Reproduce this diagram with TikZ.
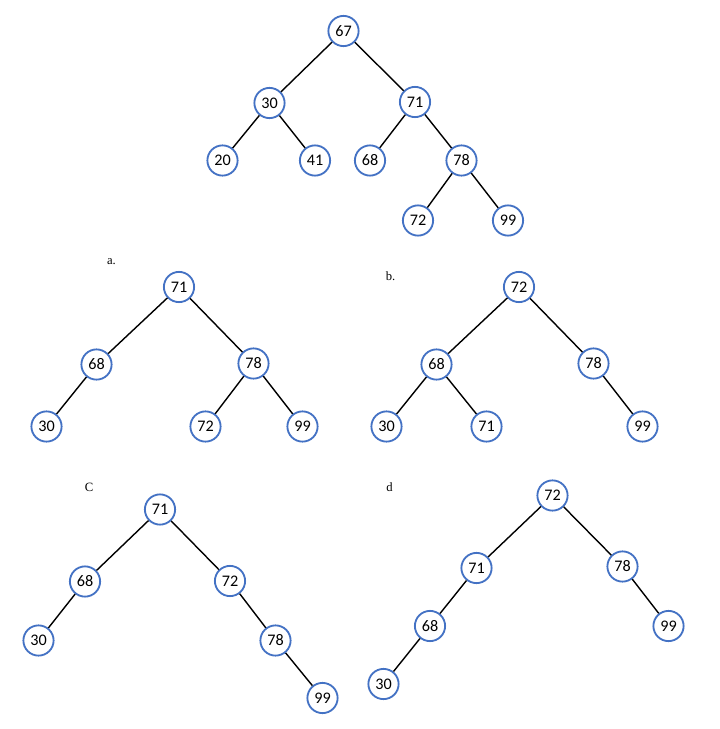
\documentclass[tikz,border=0pt]{standalone}
\usepackage{fontspec}
\setmainfont{Liberation Serif}
\newfontfamily\keyfont{Carlito}
\definecolor{keyblue}{RGB}{68,114,196}
\tikzset{
  key/.style={circle, draw=keyblue, line width=1.3pt, fill=white,
    minimum size=21.5pt, inner sep=0pt, font=\keyfont\fontsize{11.5}{11.5}\selectfont},
  edge/.style={draw=black, line width=1pt},
  tag/.style={font=\fontsize{9}{9}\selectfont, inner sep=0pt}
}

\begin{document}
\begin{tikzpicture}[x=0.025cm, y=-0.025cm]
      \useasboundingbox (0,0) rectangle (719,729);

      % given tree
      \node[key] (t67) at (343.5,31) {67};
      \node[key] (t30) at (269.5,103) {30};
      \node[key] (t71) at (415,102) {71};
      \node[key] (t20) at (222.5,160.5) {20};
      \node[key] (t41) at (315,160.5) {41};
      \node[key] (t68) at (370,160.5) {68};
      \node[key] (t78) at (461.5,160.5) {78};
      \node[key] (t72) at (418,220.5) {72};
      \node[key] (t99) at (508,220.5) {99};
      \draw[edge] (t67) -- (t30) (t67) -- (t71)
        (t30) -- (t20) (t30) -- (t41)
        (t71) -- (t68) (t71) -- (t78)
        (t78) -- (t72) (t78) -- (t99);

      % a.
      \node[tag] (la) at (111.5,261.5) {a.};
      \node[key] (a71) at (179,287) {71};
      \node[key] (a68) at (96.5,364.5) {68};
      \node[key] (a78) at (253.5,363.5) {78};
      \node[key] (a30) at (46.5,426.5) {30};
      \node[key] (a72) at (205.5,426.5) {72};
      \node[key] (a99) at (302.5,426.5) {99};
      \draw[edge] (a71) -- (a68) (a71) -- (a78)
        (a68) -- (a30) (a78) -- (a72) (a78) -- (a99);

      % b.
      \node[tag] (lb) at (390.5,276) {b.};
      \node[key] (b72) at (519,287) {72};
      \node[key] (b68) at (436.5,364.5) {68};
      \node[key] (b78) at (593.5,363.5) {78};
      \node[key] (b30) at (386.5,426.5) {30};
      \node[key] (b71) at (486.5,426.5) {71};
      \node[key] (b99) at (642.5,426.5) {99};
      \draw[edge] (b72) -- (b68) (b72) -- (b78)
        (b68) -- (b30) (b68) -- (b71) (b78) -- (b99);

      % C
      \node[tag] (lc) at (89,487.5) {C};
      \node[key] (c71) at (160,509.5) {71};
      \node[key] (c68) at (85,581.5) {68};
      \node[key] (c72) at (230,581) {72};
      \node[key] (c30) at (38.5,640.5) {30};
      \node[key] (c78) at (275.5,640.5) {78};
      \node[key] (c99) at (322.5,698) {99};
      \draw[edge] (c71) -- (c68) (c71) -- (c72)
        (c68) -- (c30) (c72) -- (c78) (c78) -- (c99);

      % d
      \node[tag] (ld) at (389.5,487.5) {d};
      \node[key] (d72) at (552.5,495.5) {72};
      \node[key] (d71) at (476.5,568) {71};
      \node[key] (d78) at (622.5,566.5) {78};
      \node[key] (d68) at (430,626) {68};
      \node[key] (d99) at (668.5,626) {99};
      \node[key] (d30) at (383.5,684) {30};
      \draw[edge] (d72) -- (d71) (d72) -- (d78)
        (d71) -- (d68) (d68) -- (d30) (d78) -- (d99);
    \end{tikzpicture}
\end{document}
